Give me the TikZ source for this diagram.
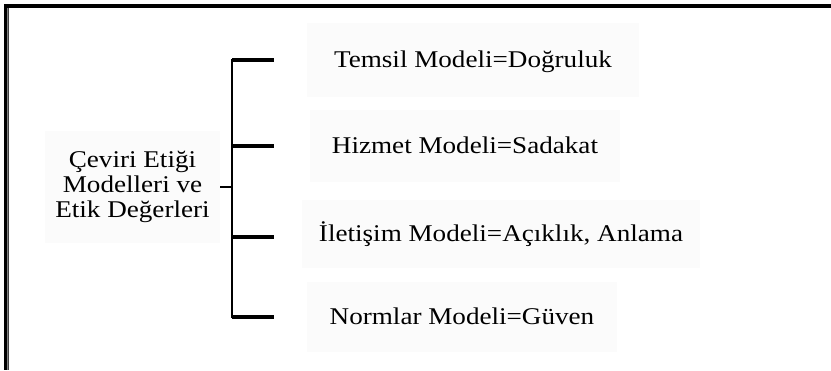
\documentclass[tikz,border=0pt]{standalone}
\usepackage{fontspec}
\setmainfont[FakeStretch=1.13]{Liberation Serif}
\definecolor{boxfill}{gray}{0.985}
\definecolor{frameinner}{gray}{0.25}
\begin{document}
\begin{tikzpicture}[x=1pt,y=-1pt,
  txt/.style={fill=boxfill, inner sep=0pt, font=\fontsize{24}{25}\selectfont},
  leaf/.style={txt, text height=15.5pt, text depth=0pt},
  spine/.style={line width=2.5pt, line cap=rect},
  branch/.style={line width=3.5pt}]
\useasboundingbox (0,0) rectangle (831,370);
% frame
\fill[black] (4,4) rectangle (831,8);
\fill[black] (4,4) rectangle (6.7,370);
\fill[gray] (6.7,8) rectangle (8,370);
\fill[frameinner] (8,8) rectangle (9.4,370);
% nodes
\node[txt, align=center, minimum width=175pt, minimum height=112pt] (root) at (132.5,187)
  {Çeviri Etiği\\Modelleri ve\\Etik Değerleri};
\node[leaf, minimum width=332pt, minimum height=74pt] (c1) at (473,60) {Temsil Modeli=Doğruluk};
\node[leaf, minimum width=310pt, minimum height=72pt] (c2) at (465,146) {Hizmet Modeli=Sadakat};
\node[leaf, minimum width=398pt, minimum height=68pt] (c3) at (501,234) {İletişim Modeli=Açıklık, Anlama};
\node[leaf, minimum width=310pt, minimum height=70pt] (c4) at (462,317) {Normlar Modeli=Güven};
% bracket
\coordinate (s1) at (232,60);
\coordinate (s2) at (232,146);
\coordinate (s3) at (232,237);
\coordinate (s4) at (232,317);
\coordinate (b1) at (274,60);
\coordinate (b2) at (274,146);
\coordinate (b3) at (274,237);
\coordinate (b4) at (274,317);
\draw[spine] (s1) -- (s4);
\draw[line width=2.5pt] (root.east) -- (root.east -| s1);
\draw[branch] (s1) -- (b1);
\draw[branch] (s2) -- (b2);
\draw[branch] (s3) -- (b3);
\draw[branch] (s4) -- (b4);
\end{tikzpicture}
\end{document}
